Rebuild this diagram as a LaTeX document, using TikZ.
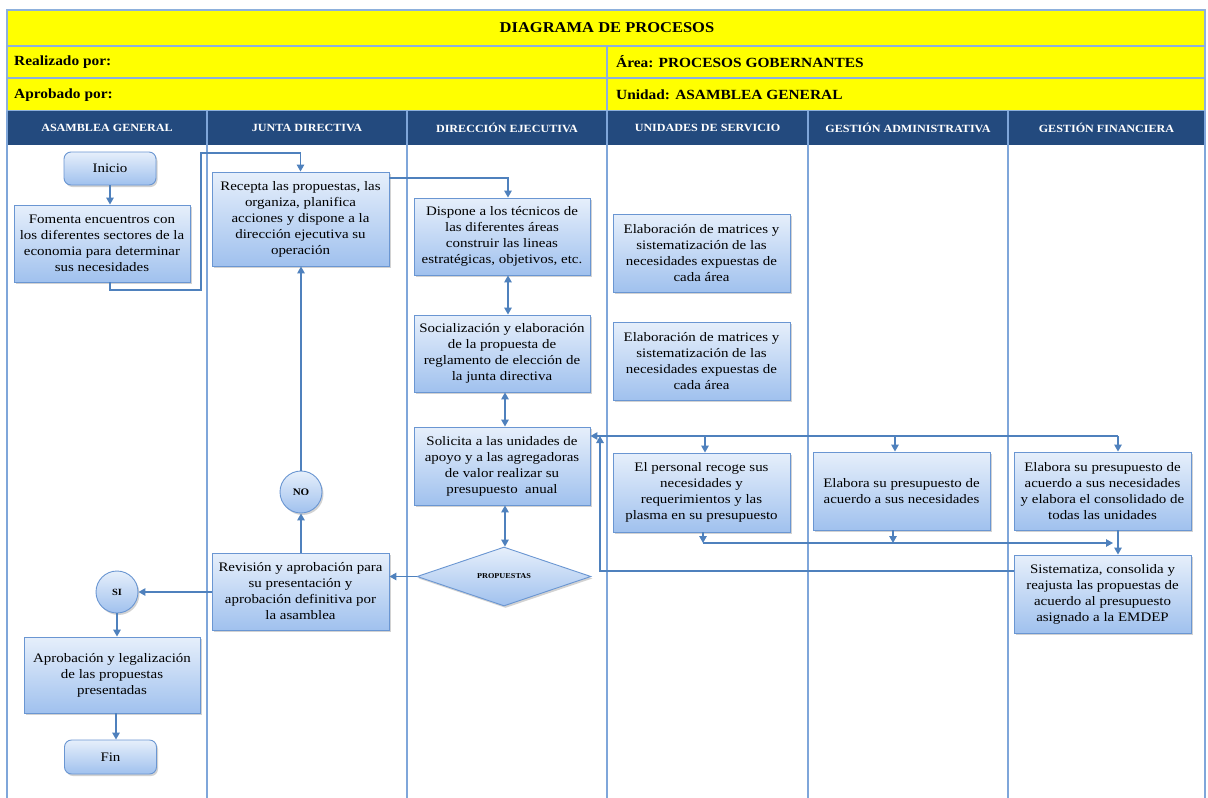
\documentclass[tikz,border=0pt]{standalone}
\usepackage{fontspec}
\setmainfont{Liberation Serif}[FakeStretch=1.1]
\newfontfamily\boxfont{Liberation Serif}[FakeStretch=1.15]
\usetikzlibrary{arrows.meta,shapes.geometric,shadows,calc}
\definecolor{ylw}{HTML}{FFFF00}
\definecolor{hdr}{HTML}{234A7E}
\definecolor{grid}{HTML}{8DB0DC}
\definecolor{lane}{HTML}{7FA6DA}
\definecolor{boxtop}{HTML}{E6EFFB}
\definecolor{boxbot}{HTML}{A0C1EE}
\definecolor{boxline}{HTML}{6A96D2}
\definecolor{arrc}{HTML}{4F81BD}
\begin{document}
\begin{tikzpicture}[x=1pt,y=-1pt,
  procbox/.style={draw=boxline, line width=0.9pt, top color=boxtop, bottom color=boxbot,
    drop shadow={shadow xshift=1.5pt,shadow yshift=-2pt,opacity=0.35},
    align=center, inner sep=2pt, font=\boxfont\fontsize{13}{16}\selectfont},
  wbox/.style={procbox, minimum width=177pt, minimum height=78pt},
  term/.style={procbox, rounded corners=7pt, minimum width=92pt, minimum height=33pt},
  circ/.style={procbox, circle, minimum size=42pt, inner sep=0pt, font=\fontsize{10}{12}\selectfont\bfseries},
  rowtxt/.style={anchor=west, inner sep=0pt, font=\fontsize{14}{16}\selectfont\bfseries},
  hdrtxt/.style={text=white, inner sep=0pt, font=\fontsize{11}{13}\selectfont\bfseries},
  arr/.style={draw=arrc, line width=1.3pt, -{Triangle[length=7pt,width=7.5pt]}},
  arrb/.style={draw=arrc, line width=1.3pt, {Triangle[length=7pt,width=7.5pt]}-{Triangle[length=7pt,width=7.5pt]}},
  plain/.style={draw=arrc, line width=1.3pt}
]
\useasboundingbox (0,0) rectangle (1208,798);
\fill[white] (0,0) rectangle (1208,798);
% header table
\fill[ylw] (7,10) rectangle (1205,111);
\draw[grid, line width=1.6pt] (7,10) rectangle (1205,111);
\draw[grid, line width=1.6pt] (7,46) -- (1205,46) (7,78) -- (1205,78) (607,46) -- (607,111);
\fill[hdr] (7,111) rectangle (1205,145);
\foreach \xx in {7,207,407,607,808,1008,1205}{
  \draw[lane, line width=1.6pt] (\xx,111) -- (\xx,798);
}
\node[inner sep=0pt, font=\fontsize{15}{18}\selectfont\bfseries] (title) at (607,28) {DIAGRAMA DE PROCESOS};
\node[rowtxt] (real) at (14,62) {Realizado por:};
\node[rowtxt] (apro) at (14,95) {Aprobado por:};
\node[rowtxt] (area) at (616,62) {Área: PROCESOS GOBERNANTES};
\node[rowtxt] (unid) at (616,95) {Unidad: ASAMBLEA GENERAL};
\node[hdrtxt] (h1) at (107,128) {ASAMBLEA GENERAL};
\node[hdrtxt] (h2) at (307,128) {JUNTA DIRECTIVA};
\node[hdrtxt] (h3) at (507,128) {DIRECCIÓN EJECUTIVA};
\node[hdrtxt] (h4) at (707.5,128) {UNIDADES DE SERVICIO};
\node[hdrtxt] (h5) at (908,128) {GESTIÓN ADMINISTRATIVA};
\node[hdrtxt] (h6) at (1106.5,128) {GESTIÓN FINANCIERA};
% nodes
\node[term] (ini) at (110,168.5) {Inicio};
\node[wbox, minimum width=176pt, minimum height=77pt] (fom) at (102,243.5) {Fomenta encuentros con\\los diferentes sectores de la\\economia para determinar\\sus necesidades};
\node[wbox, minimum height=94pt] (rec) at (300.5,219) {Recepta las propuestas, las\\organiza, planifica\\acciones y dispone a la\\dirección ejecutiva su\\operación};
\node[wbox, minimum width=176pt, minimum height=77pt] (dis) at (502,236.5) {Dispone a los técnicos de\\las diferentes áreas\\construir las lineas\\estratégicas, objetivos, etc.};
\node[wbox, minimum width=176pt, minimum height=77pt] (soc) at (502,353.5) {Socialización y elaboración\\de la propuesta de\\reglamento de elección de\\la junta directiva};
\node[wbox] (ela1) at (701.5,253) {Elaboración de matrices y\\sistematización de las\\necesidades expuestas de\\cada área};
\node[wbox] (ela2) at (701.5,361) {Elaboración de matrices y\\sistematización de las\\necesidades expuestas de\\cada área};
\node[wbox, minimum width=176pt] (sol) at (502,466) {Solicita a las unidades de\\apoyo y a las agregadoras\\de valor realizar su\\presupuesto \ anual};
\node[wbox, minimum height=79pt] (per) at (701.5,492.5) {El personal recoge sus\\necesidades y\\requerimientos y las\\plasma en su presupuesto};
\node[wbox] (adm) at (901.5,491) {Elabora su presupuesto de\\acuerdo a sus necesidades};
\node[wbox] (gfin) at (1102.5,491) {Elabora su presupuesto de\\acuerdo a sus necesidades\\y elabora el consolidado de\\todas las unidades};
\node[wbox] (sis) at (1102.5,594) {Sistematiza, consolida y\\reajusta las propuestas de\\acuerdo al presupuesto\\asignado a la EMDEP};
\node[procbox, diamond, minimum width=174pt, minimum height=43pt, inner sep=0pt, font=\fontsize{7.5}{9}\selectfont\bfseries] (prop) at (504,576.5) {PROPUESTAS};
\node[wbox, minimum height=77pt] (rev) at (300.5,591.5) {Revisión y aprobación para\\su presentación y\\aprobación definitiva por\\la asamblea};
\node[circ] (no) at (301,492) {NO};
\node[circ, font=\fontsize{9.5}{11}\selectfont\bfseries] (si) at (117,592) {SI};
\node[wbox, minimum width=176pt, minimum height=76pt] (apr) at (112,675) {Aprobación y legalización\\de las propuestas\\presentadas};
\node[term, minimum height=34pt] (fine) at (110.5,757) {Fin};
% connectors
\coordinate (b1) at (201,290);
\coordinate (b2) at (201,153);
\draw[arr] (ini.south) -- (ini.south |- fom.north);
\draw[arr] (ini.south |- fom.south) |- (b1) -- (b2) -| (rec.north);
\draw[arr] ([yshift=-6.5pt]rec.north east) -| ([xshift=6pt]dis.north);
\draw[arrb] ([xshift=6pt]dis.south) -- ([xshift=6pt]soc.north);
\draw[arrb] ([xshift=3pt]soc.south) -- ([xshift=3pt]sol.north);
\draw[arrb] ([xshift=3pt]sol.south) -- ([xshift=3pt]sol.south |- prop.north);
\draw[arr] (prop.west) -- (prop.west -| rev.east);
\draw[arr] (rev.north -| no.south) -- (no.south);
\draw[arr] (no.north) -- (no.north |- rec.south);
\draw[arr] (rev.west |- si.east) -- (si.east);
\draw[arr] (si.south) -- (si.south |- apr.north);
\draw[arr] ([xshift=4pt]apr.south) -- ([xshift=4pt]apr.south |- fine.north);
% distribution loop
\coordinate (j) at (600,436);
\draw[plain] (j) -- ([xshift=15.5pt]gfin.north |- j);
\draw[arr] (j) -- (sol.east |- j);
\draw[arr] ([xshift=3.5pt]per.north |- j) -- ([xshift=3.5pt]per.north);
\draw[arr] ([xshift=-6.5pt]adm.north |- j) -- ([xshift=-6.5pt]adm.north);
\draw[arr] ([xshift=15.5pt]gfin.north |- j) -- ([xshift=15.5pt]gfin.north);
\draw[arr] ([yshift=23pt]sis.west) -| (j);
% consolidation line
\coordinate (k) at (0,543);
\draw[arr] ([xshift=1.5pt]per.south) -- ([xshift=1.5pt]per.south |- k);
\draw[arr] ([xshift=-8.5pt]adm.south) -- ([xshift=-8.5pt]adm.south |- k);
\draw[arr] ([xshift=1.5pt]per.south |- k) -- ([xshift=10.5pt]sis.north |- k);
\draw[arr] ([xshift=15.5pt]gfin.south) -- ([xshift=15.5pt]sis.north);
\end{tikzpicture}
\end{document}
